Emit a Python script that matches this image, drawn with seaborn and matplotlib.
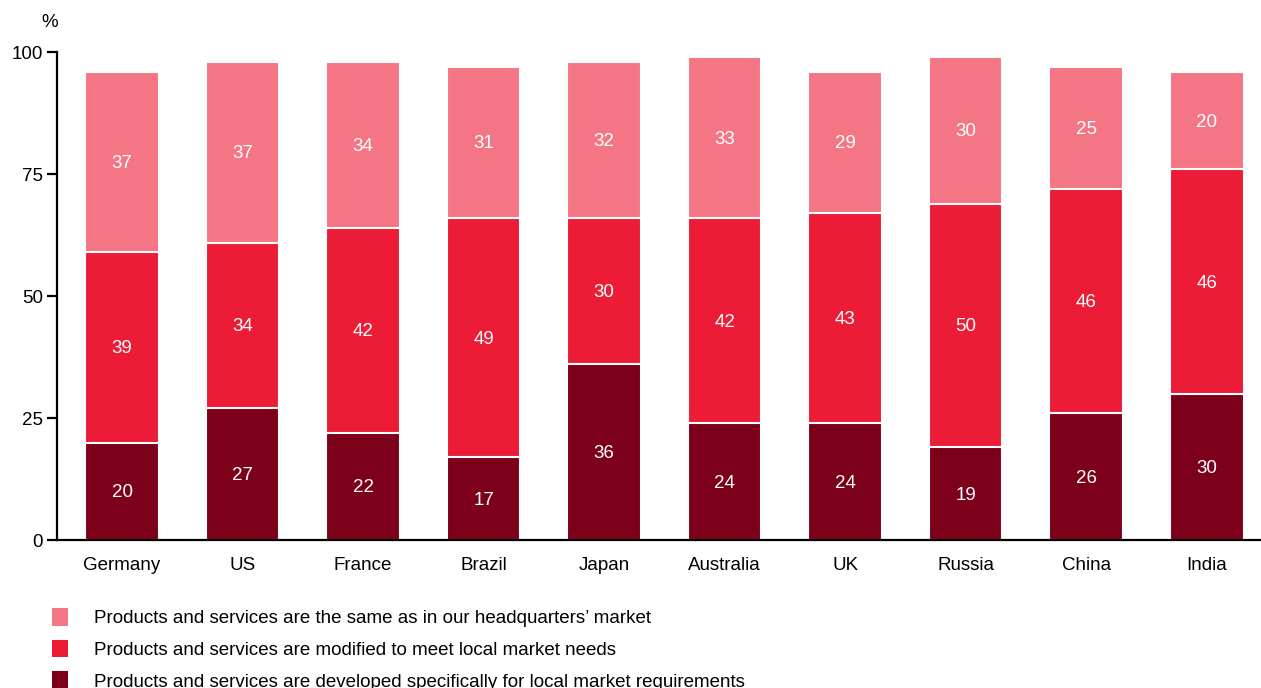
import pandas as pd
import matplotlib.pyplot as plt
import seaborn as sns
from matplotlib.patches import Patch

# Data
countries = ["Germany", "US", "France", "Brazil", "Japan", "Australia", "UK", "Russia", "China", "India"]
developed = [20, 27, 22, 17, 36, 24, 24, 19, 26, 30]
modified = [39, 34, 42, 49, 30, 42, 43, 50, 46, 46]
same = [37, 37, 34, 31, 32, 33, 29, 30, 25, 20]

series_labels = [
    "Products and services are the same as in our headquarters\u2019 market",
    "Products and services are modified to meet local market needs",
    "Products and services are developed specifically for local market requirements",
]
colors = ["#f47684", "#ed1c36", "#7d001b"]
FS = 13.5

sns.set_theme(style="white")
plt.rcParams['font.family'] = ['Liberation Sans', 'DejaVu Sans']
plt.rcParams['text.color'] = 'black'

df = pd.DataFrame({"country": countries, "developed": developed,
                   "modified": modified, "same": same})
df["lvl1"] = df.developed
df["lvl2"] = df.developed + df.modified
df["lvl3"] = df.developed + df.modified + df.same

fig = plt.figure(figsize=(12.61, 6.88), dpi=100)
ax = fig.add_axes([0.0452, 0.215, 0.9548, 0.709])

# overlay bars, tallest first
for col, c in zip(["lvl3", "lvl2", "lvl1"], colors):
    sns.barplot(data=df, x="country", y=col, color=c, saturation=1, width=0.61,
                edgecolor="white", linewidth=1.5, ax=ax, order=countries)

# segment labels
for i, row in df.iterrows():
    for lo, hi, v in [(0, row.lvl1, row.developed), (row.lvl1, row.lvl2, row.modified),
                      (row.lvl2, row.lvl3, row.same)]:
        ax.text(i, (lo + hi) / 2 - 0.3, str(v), ha="center", va="center",
                color="white", fontsize=FS)

ax.set_ylim(0, 100)
ax.set_xlim(-0.54, 9.45)
ax.set_yticks([0, 25, 50, 75, 100])
ax.set_xlabel("")
ax.set_ylabel("")
sns.despine(ax=ax)
for s in ["left", "bottom"]:
    ax.spines[s].set_linewidth(1.6)
    ax.spines[s].set_color("black")
ax.tick_params(axis="y", which="both", left=True, length=7, width=1.6, color="black",
               labelsize=FS, pad=3)
ax.tick_params(axis="x", bottom=False, labelsize=FS, pad=6)
for t in ax.get_yticklabels() + ax.get_xticklabels():
    t.set_color("black")

fig.text(0.033, 0.967, "%", fontsize=FS, ha="left", va="center", color="black")

handles = [Patch(facecolor=c, edgecolor="none") for c in colors]
leg = fig.legend(handles, series_labels, loc="upper left", bbox_to_anchor=(0.041, 0.116),
                 frameon=False, fontsize=FS, handlelength=0.85, handleheight=1.07,
                 handletextpad=1.4, labelspacing=0.66, borderaxespad=0, borderpad=0)
for t in leg.get_texts():
    t.set_color("black")

fig.savefig("out.png", dpi=100)
